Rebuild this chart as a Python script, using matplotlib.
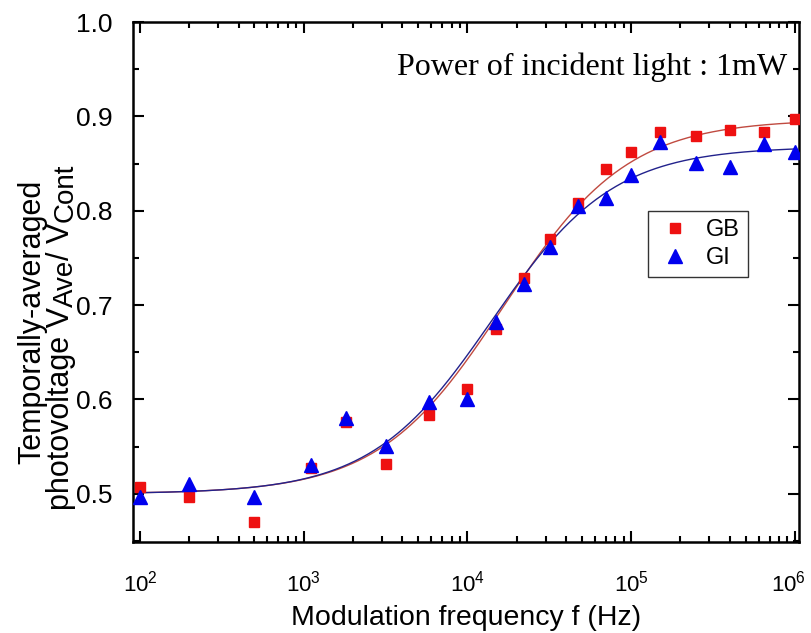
import numpy as np
import matplotlib.pyplot as plt
import matplotlib.transforms as mtransforms

plt.rcParams['font.family'] = ['Liberation Sans', 'DejaVu Sans']
plt.rcParams['mathtext.default'] = 'regular'

# modulation frequency (Hz)
freq = [100, 200, 500, 1100, 1800, 3200, 5800, 10000, 15000, 22000,
        32000, 47000, 70000, 100000, 150000, 250000, 400000, 650000, 1000000]

# normalised photovoltage V_Ave / V_Cont
gb = [0.507, 0.497, 0.470, 0.527, 0.576, 0.532, 0.584, 0.611, 0.675, 0.729,
      0.770, 0.808, 0.844, 0.862, 0.884, 0.879, 0.886, 0.884, 0.897]
gi = [0.497, 0.510, 0.497, 0.531, 0.580, 0.551, 0.597, 0.600, 0.682, 0.722,
      0.762, 0.805, 0.814, 0.838, 0.873, 0.851, 0.846, 0.871, 0.862]

# Boltzmann fits in log10(f): (A1, A2, x0, dx)
gb_fit = (0.500, 0.897, 4.22, 0.38)
gi_fit = (0.500, 0.868, 4.15, 0.37)


def boltzmann(logf, a1, a2, x0, dx):
    return a2 + (a1 - a2) / (1 + np.exp((logf - x0) / dx))


fig = plt.figure(figsize=(8.11, 6.33), dpi=100)
ax = fig.add_axes([0.164, 0.144, 0.821, 0.821])

logf = np.linspace(2, 6, 400)
f = 10 ** logf
ax.plot(f, boltzmann(logf, *gb_fit), color='#c04a40', lw=1.0, zorder=2)
ax.plot(f, boltzmann(logf, *gi_fit), color='#22228c', lw=1.0, zorder=2)

ax.plot(freq, gb, 's', color='#ee1111', ms=7.8, mec='#ee1111', label='GB', zorder=3)
ax.plot(freq, gi, '^', color='#0000ee', ms=10, mec='#0000ee', label='GI', zorder=4)

ax.set_xscale('log')
ax.set_xlim(10 ** 1.957, 10 ** 6.024)
ax.set_ylim(0.449, 1.0)
ax.set_yticks([0.5, 0.6, 0.7, 0.8, 0.9, 1.0])
ax.set_yticks(np.arange(0.45, 1.0, 0.05), minor=True)
ax.set_xticks([1e2, 1e3, 1e4, 1e5, 1e6])

ax.tick_params(which='both', direction='in', top=True, right=True, width=1.5)
ax.tick_params(which='major', length=8)
ax.tick_params(which='minor', length=4)
ax.tick_params(axis='y', which='major', labelsize=19, pad=15)
ax.tick_params(axis='x', which='major', labelsize=16, pad=21)
for s in ax.spines.values():
    s.set_linewidth(1.8)

# nudge the last x label left so it stays on the canvas
last = ax.xaxis.get_major_ticks()[-1].label1
last.set_transform(last.get_transform() +
                   mtransforms.ScaledTranslation(-6 / 100, 0, fig.dpi_scale_trans))

ax.set_xlabel('Modulation frequency f (Hz)', fontsize=20.5, labelpad=6)

# y label: two rotated lines, with near full-size subscripts
fig.text(32 / 811, 1 - 322 / 633, 'Temporally-averaged', rotation=90,
         ha='center', va='center', fontsize=22)
line2 = fig.text(61 / 811, 1 - 510 / 633, 'photovoltage V', rotation=90,
                 ha='center', va='bottom', fontsize=22)
prev = line2
for piece, shift, size in [('Ave', 5, 20), ('/ V', -5, 22), ('Cont', 5, 20)]:
    prev = ax.annotate(piece, xy=(0.5, 1), xycoords=prev, xytext=(shift, 0),
                       textcoords='offset pixels', rotation=90,
                       ha='center', va='bottom', fontsize=size,
                       annotation_clip=False)

ax.text(0.982, 0.913, 'Power of incident light : 1mW', transform=ax.transAxes,
        ha='right', va='center', fontsize=23, family='Liberation Serif')

leg = ax.legend(loc='upper left', bbox_to_anchor=(0.773, 0.637), fontsize=17,
                frameon=True, fancybox=False, edgecolor='black',
                handletextpad=0.5, borderpad=0.35, labelspacing=0.25,
                handlelength=1.6, borderaxespad=0)
leg.get_frame().set_linewidth(1.0)

fig.savefig('out.png', dpi=100)
